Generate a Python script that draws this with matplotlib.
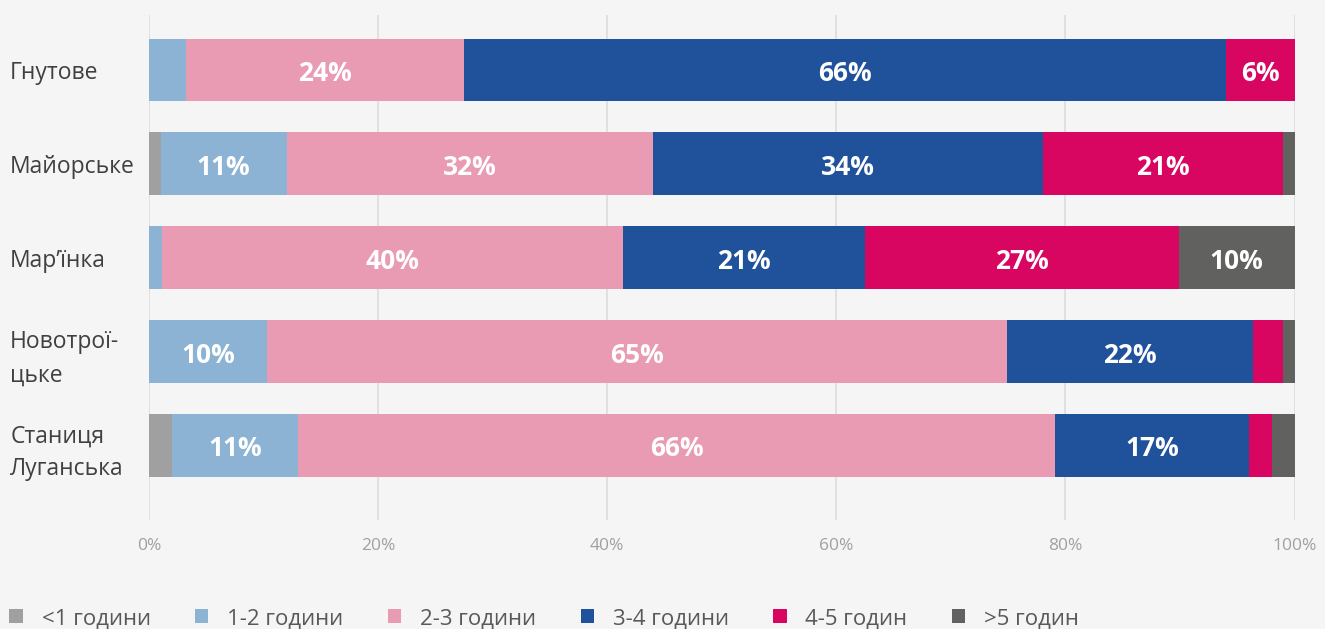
import numpy as np
import matplotlib
matplotlib.use('Agg')
import matplotlib.pyplot as plt
from matplotlib.patches import Patch

plt.rcParams['font.family'] = ['Open Sans', 'DejaVu Sans']

towns = ['Гнутове', 'Майорське', 'Мар’їнка', 'Новотрої-\nцьке', 'Станиця\nЛуганська']
series = ['<1 години', '1-2 години', '2-3 години', '3-4 години', '4-5 годин', '>5 годин']
colors = ['#a0a0a0', '#8cb3d4', '#e99bb4', '#20529b', '#d80660', '#616160']

under1 = [0, 1, 0, 0, 2]
h1_2 = [3.2, 11, 1.1, 10.3, 11]
h2_3 = [24.3, 32, 40.3, 64.6, 66.1]
h3_4 = [66.5, 34, 21.1, 21.5, 16.9]
h4_5 = [6, 21, 27.4, 2.6, 2]
over5 = [0, 1, 10.1, 1, 2]
values = [under1, h1_2, h2_3, h3_4, h4_5, over5]

BG = '#f5f5f5'
fig = plt.figure(figsize=(13.25, 6.29), dpi=100, facecolor=BG)
ax = fig.add_axes([0.1125, 0.173, 0.8645, 0.803])
ax.set_facecolor(BG)

y = np.arange(len(towns))
left = np.zeros(len(towns))
for name, vals, col in zip(series, values, colors):
    vals = np.array(vals, dtype=float)
    ax.barh(y, vals, left=left, height=0.67, color=col, label=name, zorder=3)
    for yi, (l, v) in enumerate(zip(left, vals)):
        if v >= 5:
            ax.text(l + v / 2, yi + 0.04, f'{v:.0f}%', ha='center', va='center',
                    color='white', fontsize=19, fontweight='bold', zorder=4)
    left += vals

ax.set_xlim(0, 100)
ax.set_ylim(4.8, -0.585)
ax.set_xticks(np.arange(0, 101, 20))
ax.set_xticklabels([f'{t}%' for t in range(0, 101, 20)], color='#a0a0a0', fontsize=12.5)
ax.tick_params(axis='x', length=0, pad=13)
ax.grid(axis='x', color='#dcdcdc', linewidth=1.2, zorder=0)
for s in ax.spines.values():
    s.set_visible(False)

ax.set_yticks(y)
ax.set_yticklabels(towns, fontsize=16.5, color='#404040', ha='left', linespacing=1.5)
ax.tick_params(axis='y', length=0, pad=100)

handles = [Patch(facecolor=c, edgecolor='none') for c in colors]
fig.legend(handles, series, loc='lower left', bbox_to_anchor=(-0.008, -0.032), ncol=6,
           frameon=False, fontsize=16, labelcolor='#595959', handlelength=0.6,
           handleheight=0.6, handletextpad=0.85, columnspacing=2.0)

fig.savefig('out.png', dpi=100, facecolor=BG)
